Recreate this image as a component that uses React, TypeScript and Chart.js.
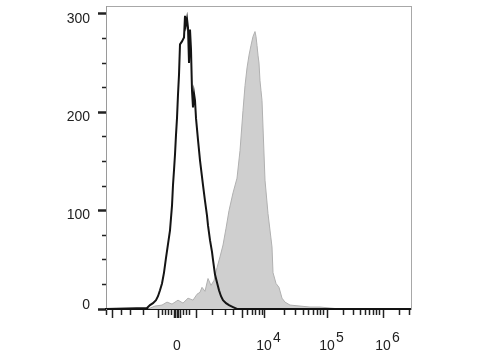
import React, { useEffect, useRef } from "react";
import { Chart, registerables } from "chart.js";

Chart.register(...registerables);

// Histogram of the unstained control (black outline), x in display channels
const blackX = [0, 41, 44, 47, 50, 52, 54, 56, 58, 60, 62, 64, 66, 67, 68, 69, 70, 71, 72, 73, 74, 76, 78, 79, 80, 81, 82, 83, 84, 85, 86, 87, 88, 89, 90, 92, 94, 97, 99, 101, 102, 104, 106, 107, 109, 111, 113, 115, 117, 120, 123, 127, 131, 305];
const blackY = [0, 1, 4, 6, 9, 13, 19, 26, 37, 52, 66, 80, 105, 126, 141, 157, 177, 194, 218, 238, 269, 272, 276, 298, 289, 295, 286, 250, 284, 264, 222, 205, 219, 212, 194, 172, 151, 126, 110, 95, 85, 70, 58, 50, 35, 27, 19, 13, 9, 6, 4, 2, 0, 0];

// Histogram of the stained sample (grey filled)
const grayX = [42, 49, 56, 61, 66, 72, 77, 82, 87, 91, 94, 96, 99, 102, 105, 108, 111, 114, 117, 120, 123, 127, 131, 134, 137, 139, 141, 143, 145, 147, 149, 150, 151, 152, 153, 154, 155, 156, 157, 159, 162, 166, 167, 170, 173, 176, 179, 184, 194, 204, 214, 224, 234];
const grayY = [0, 3, 4, 7, 5, 9, 6, 11, 9, 15, 17, 22, 18, 31, 24, 29, 42, 53, 65, 82, 100, 118, 133, 161, 202, 227, 245, 258, 268, 277, 282, 277, 268, 258, 250, 232, 222, 212, 185, 131, 97, 63, 37, 26, 22, 11, 7, 4, 3, 2, 2, 1, 0];

// Axis ticks
const yTickValues = [0, 25, 50, 75, 100, 125, 150, 175, 200, 225, 250, 275, 300];
const yTickLabels = ["0", "100", "200", "300"];

const xTickValues = [0, 6, 15, 24, 37, 52, 56, 59, 62, 65, 68, 69.5, 71, 72.5, 74, 77, 80, 83, 90, 106, 119, 127, 136, 141, 146, 149.5, 153, 156, 158, 178, 189, 197, 202, 207, 211, 214, 217, 221, 237, 247, 254, 259, 263, 267, 270, 273, 277, 293, 303];
const xLongTicks = [6, 52, 68, 69.5, 71, 72.5, 74, 90, 136, 158, 221, 277];
const xLabelTicks = [71, 158, 221, 277];
const xLabelBases = ["0", "10", "10", "10"];
const xLabelExponents = ["", "4", "5", "6"];

const FONT = '"Liberation Sans", Arial, Helvetica, sans-serif';

const exponentPlugin = {
  id: "exponents",
  afterDraw(chart: any) {
    const s = chart.scales.x;
    const ctx = chart.ctx;
    ctx.save();
    ctx.font = `14px ${FONT}`;
    ctx.fillStyle = "#222";
    ctx.textAlign = "left";
    ctx.textBaseline = "middle";
    xLabelTicks.forEach((v, i) => {
      if (xLabelExponents[i]) {
        ctx.fillText(xLabelExponents[i], s.getPixelForValue(v) + 9, s.top + 29);
      }
    });
    ctx.restore();
  },
};

const noPadding = (s: any) => {
  s.paddingTop = 0;
  s.paddingBottom = 0;
  s.paddingLeft = 0;
  s.paddingRight = 0;
};

export default function App() {
  const ref = useRef<HTMLCanvasElement>(null);
  useEffect(() => {
    const chart = new Chart(ref.current as HTMLCanvasElement, {
      type: "line",
      data: {
        datasets: [
          {
            data: blackX.map((x, i) => ({ x, y: blackY[i] })),
            borderColor: "#141414",
            borderWidth: 2,
            pointRadius: 0,
            fill: false,
            tension: 0,
            order: 0,
          },
          {
            data: grayX.map((x, i) => ({ x, y: grayY[i] })),
            borderColor: "#b0b0b0",
            backgroundColor: "#cfcfcf",
            borderWidth: 1,
            pointRadius: 0,
            fill: "origin",
            tension: 0,
            order: 1,
          },
        ],
      },
      plugins: [exponentPlugin],
      options: {
        animation: false,
        responsive: false,
        layout: { padding: { top: 6, right: 69, left: 0, bottom: 0 } },
        plugins: { legend: { display: false }, tooltip: { enabled: false } },
        scales: {
          x: {
            type: "linear",
            position: "bottom",
            min: 0,
            max: 305,
            afterBuildTicks: (s: any) => {
              s.ticks = xTickValues.map((v) => ({ value: v }));
            },
            afterFit: (s: any) => {
              s.height = 51;
              noPadding(s);
            },
            border: { display: true, color: "#111", width: 2 },
            grid: {
              drawOnChartArea: false,
              drawTicks: true,
              tickLength: 9,
              tickWidth: 1.5,
              tickColor: "#222",
              tickBorderDash: (ctx: any) =>
                ctx.tick && xLongTicks.includes(ctx.tick.value) ? [] : [5, 100],
            },
            ticks: {
              autoSkip: false,
              maxRotation: 0,
              minRotation: 0,
              padding: 20,
              color: "#222",
              font: { family: FONT, size: 14 },
              callback: (v: any) => {
                const i = xLabelTicks.indexOf(v);
                return i >= 0 ? xLabelBases[i] : "";
              },
            },
          },
          x2: {
            type: "linear",
            position: "top",
            min: 0,
            max: 305,
            afterFit: (s: any) => {
              s.height = 0;
              noPadding(s);
            },
            border: { display: true, color: "#a8a8a8", width: 1 },
            grid: { display: false, drawTicks: false },
            ticks: { display: false },
          },
          y: {
            type: "linear",
            position: "left",
            min: 0,
            max: 308,
            afterBuildTicks: (s: any) => {
              s.ticks = yTickValues.map((v) => ({ value: v }));
            },
            afterFit: (s: any) => {
              s.width = 106;
              noPadding(s);
            },
            border: { display: true, color: "#9a9a9a", width: 1 },
            grid: {
              drawOnChartArea: false,
              drawTicks: true,
              tickLength: 8,
              tickColor: "#222",
              tickWidth: (ctx: any) => (ctx.tick && ctx.tick.value % 100 === 0 ? 2.5 : 1.5),
              tickBorderDash: (ctx: any) =>
                ctx.tick && ctx.tick.value % 100 === 0 ? [] : [0, 4, 4, 100],
            },
            ticks: {
              autoSkip: false,
              padding: 8,
              labelOffset: 5,
              color: "#222",
              font: { family: FONT, size: 14 },
              callback: (v: any) => {
                if (v % 100 !== 0) return "";
                const label = yTickLabels[v / 100];
                return v === 0 ? [label, ""] : label;
              },
            },
          },
          y2: {
            type: "linear",
            position: "right",
            min: 0,
            max: 308,
            afterFit: (s: any) => {
              s.width = 0;
              noPadding(s);
            },
            border: { display: true, color: "#a8a8a8", width: 1 },
            grid: { display: false, drawTicks: false },
            ticks: { display: false },
          },
        },
      },
    } as any);
    return () => chart.destroy();
  }, []);

  return (
    <div style={{ position: "fixed", left: 0, top: 0, width: 480, height: 360, background: "#fff" }}>
      <canvas ref={ref} width={480} height={360} />
    </div>
  );
}
